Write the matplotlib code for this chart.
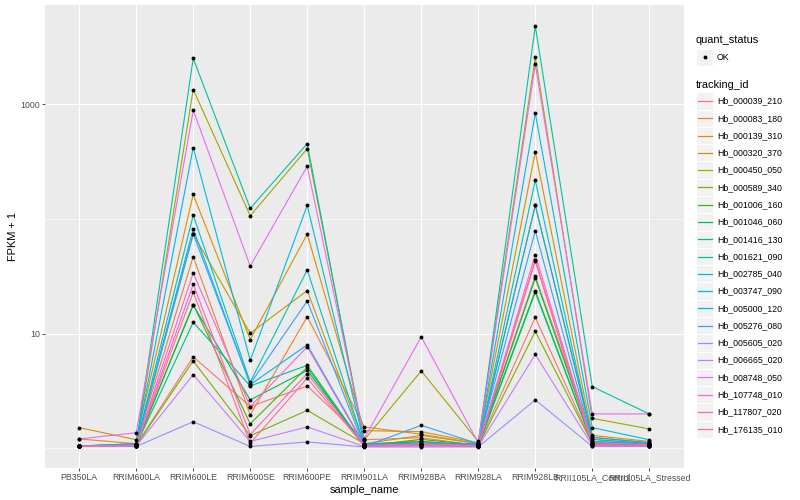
import matplotlib
matplotlib.use("Agg")
import matplotlib.pyplot as plt
from matplotlib.patches import Rectangle
from matplotlib.lines import Line2D
import numpy as np

plt.rcParams["font.family"] = ["Liberation Sans", "DejaVu Sans"]

samples = ["PB350LA", "RRIM600LA", "RRIM600LE", "RRIM600SE", "RRIM600PE",
           "RRIM901LA", "RRIM928BA", "RRIM928LA", "RRIM928LB",
           "RRII105LA_Control", "RRII105LA_Stressed"]

tracking_ids = ["Hb_000039_210", "Hb_000083_180", "Hb_000139_310", "Hb_000320_370",
                "Hb_000450_050", "Hb_000589_340", "Hb_001006_160", "Hb_001046_060",
                "Hb_001416_130", "Hb_001621_090", "Hb_002785_040", "Hb_003747_090",
                "Hb_005000_120", "Hb_005276_080", "Hb_005605_020", "Hb_006665_020",
                "Hb_008748_050", "Hb_107748_010", "Hb_117807_020", "Hb_176135_010"]

# ggplot default hue palette, 20 levels
colors = ["#F8766D", "#EA8331", "#D89000", "#C09B00", "#A3A500", "#7CAE00",
          "#39B600", "#00BB4E", "#00BF7D", "#00C1A3", "#00BFC4", "#00BAE0",
          "#00B0F6", "#35A2FF", "#9590FF", "#C77CFF", "#E76BF3", "#FA62DB",
          "#FF62BC", "#FF6C91"]

# FPKM + 1 per gene, in sample order
hb_000039_210 = [1.05, 1.07, 6.3, 2.32, 3.5, 1.19, 1.24, 1.06, 13.9, 1.10, 1.08]
hb_000083_180 = [1.21, 1.10, 47, 1.96, 14.1, 1.54, 1.33, 1.10, 31.6, 1.25, 1.12]
hb_000139_310 = [1.52, 1.19, 164, 8.9, 74, 1.43, 1.40, 1.12, 386, 1.30, 1.15]
hb_000320_370 = [1.05, 1.08, 74, 10.1, 23.8, 1.10, 1.30, 1.10, 132, 1.20, 1.10]
hb_000450_050 = [1.05, 1.08, 1350, 107, 412, 1.19, 4.74, 1.15, 2590, 1.83, 1.48]
hb_000589_340 = [1.04, 1.06, 5.8, 1.29, 2.15, 1.10, 1.15, 1.05, 10.5, 1.10, 1.07]
hb_001006_160 = [1.04, 1.06, 18, 1.64, 5.1, 1.05, 1.20, 1.07, 23.7, 1.12, 1.08]
hb_001046_060 = [1.04, 1.08, 17.7, 2.65, 4.8, 1.06, 1.15, 1.06, 30.6, 1.15, 1.09]
hb_001416_130 = [1.04, 1.07, 12.6, 3.51, 5.3, 1.05, 1.10, 1.05, 23, 1.10, 1.06]
hb_001621_090 = [1.05, 1.10, 2520, 124, 456, 1.10, 1.10, 1.08, 4830, 3.46, 2.0]
hb_002785_040 = [1.05, 1.09, 108, 3.79, 36, 1.08, 1.08, 1.06, 218, 1.20, 1.10]
hb_003747_090 = [1.05, 1.10, 421, 5.85, 132, 1.10, 1.10, 1.10, 839, 1.52, 1.19]
hb_005000_120 = [1.04, 1.08, 82, 3.6, 8.0, 1.08, 1.12, 1.08, 132, 1.25, 1.12]
hb_005276_080 = [1.04, 1.07, 74, 3.66, 19.3, 1.04, 1.59, 1.10, 79, 1.15, 1.10]
hb_005605_020 = [1.04, 1.04, 1.71, 1.04, 1.14, 1.03, 1.03, 1.03, 2.65, 1.04, 1.04]
hb_006665_020 = [1.04, 1.05, 4.4, 1.15, 1.54, 1.04, 1.05, 1.04, 6.6, 1.06, 1.05]
hb_008748_050 = [1.21, 1.37, 890, 39, 289, 1.22, 9.4, 1.12, 2240, 2.0, 2.0]
hb_107748_010 = [1.04, 1.07, 34, 2.32, 7.7, 1.06, 1.10, 1.06, 49, 1.12, 1.08]
hb_117807_020 = [1.04, 1.06, 27, 1.32, 4.5, 1.05, 1.08, 1.05, 44, 1.08, 1.06]
hb_176135_010 = [1.04, 1.06, 23, 1.11, 4.1, 1.05, 1.06, 1.04, 43, 1.07, 1.05]

series = [hb_000039_210, hb_000083_180, hb_000139_310, hb_000320_370, hb_000450_050,
          hb_000589_340, hb_001006_160, hb_001046_060, hb_001416_130, hb_001621_090,
          hb_002785_040, hb_003747_090, hb_005000_120, hb_005276_080, hb_005605_020,
          hb_006665_020, hb_008748_050, hb_107748_010, hb_117807_020, hb_176135_010]

W, H = 800, 500


def fx(px):
    return px / W


def fy(py):
    return 1 - py / H


fig = plt.figure(figsize=(8, 5), dpi=100)
ax = fig.add_axes([fx(45), fy(468), (683.5 - 45) / W, (468 - 5) / H])
ax.set_facecolor("#EBEBEB")
for s in ax.spines.values():
    s.set_visible(False)

x = np.arange(len(samples))
for vals, c in zip(series, colors):
    ax.plot(x, vals, color=c, lw=0.8, zorder=3, solid_capstyle="butt")
for vals in series:
    ax.plot(x, vals, linestyle="none", marker="o", ms=2.8, mew=0, color="black", zorder=4)

ax.set_yscale("log")
allv = np.log10(np.concatenate([np.array(v, dtype=float) for v in series]))
lo, hi = allv.min(), allv.max()
pad = 0.05 * (hi - lo)
ax.set_ylim(10 ** (lo - pad), 10 ** (hi + pad))
ax.set_xlim(-0.6, len(samples) - 0.4)

ax.set_yticks([10, 1000])
ax.set_yticklabels(["10", "1000"])
ax.set_yticks([1, 100], minor=True)
ax.yaxis.set_minor_formatter(matplotlib.ticker.NullFormatter())
ax.set_xticks(x)
ax.set_xticklabels(samples)

ax.grid(True, which="major", color="white", lw=0.8, zorder=1)
ax.grid(True, which="minor", axis="y", color="white", lw=0.4, zorder=1)
ax.set_axisbelow(True)
ax.tick_params(axis="both", which="major", length=2, width=0.6, color="#333333",
               labelsize=6.3, labelcolor="#4D4D4D", pad=1.6)
ax.tick_params(axis="y", which="minor", length=0)

ax.set_xlabel("sample_name", fontsize=7.9, labelpad=2.5)
ax.set_ylabel("FPKM + 1", fontsize=7.9, labelpad=2)

# legends drawn by hand, ggplot style
key = 17.28
kx = 696
fig.text(fx(kx), fy(40), "quant_status", fontsize=7.9, va="center", ha="left")
cy = 57.3
fig.add_artist(Rectangle((fx(kx), fy(cy + key / 2)), key / W, key / H,
                         facecolor="#F2F2F2", edgecolor="white", lw=0.8,
                         transform=fig.transFigure))
fig.add_artist(Line2D([fx(kx + key / 2)], [fy(cy)], marker="o", ms=2.8, mew=0,
                      color="black", linestyle="none", transform=fig.transFigure))
fig.text(fx(kx + key + 3.5), fy(cy), "OK", fontsize=6.3, va="center", ha="left")

fig.text(fx(kx), fy(85), "tracking_id", fontsize=7.9, va="center", ha="left")
for i, (name, c) in enumerate(zip(tracking_ids, colors)):
    cy = 101 + i * key
    fig.add_artist(Rectangle((fx(kx), fy(cy + key / 2)), key / W, key / H,
                             facecolor="#F2F2F2", edgecolor="white", lw=0.8,
                             transform=fig.transFigure))
    fig.add_artist(Line2D([fx(kx + 1.7), fx(kx + key - 1.7)], [fy(cy), fy(cy)],
                          color=c, lw=0.9, transform=fig.transFigure))
    fig.text(fx(kx + key + 3.5), fy(cy), name, fontsize=6.3, va="center", ha="left")

fig.savefig("out.png", dpi=100)
